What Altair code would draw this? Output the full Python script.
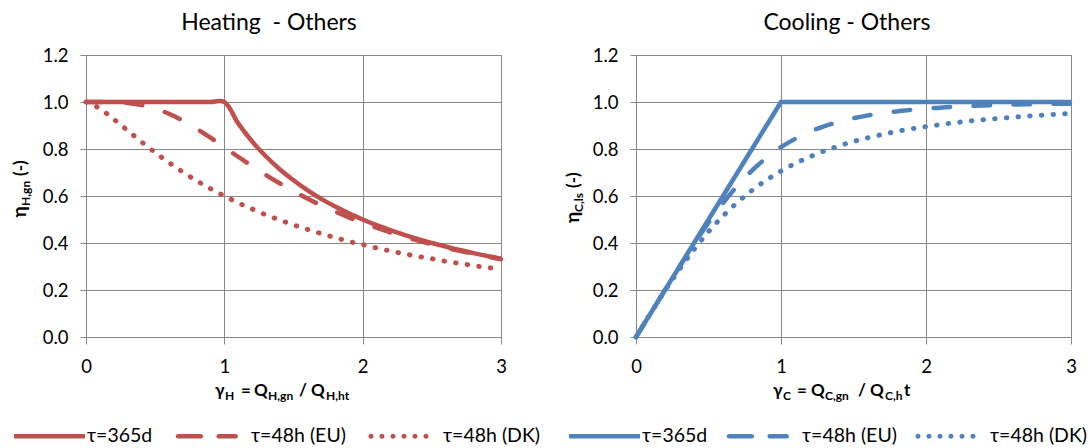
import altair as alt
import pandas as pd

# Ratio of gains to losses (x) shared by every curve
GAMMA = [0.0, 0.1, 0.2, 0.3, 0.4, 0.5, 0.6, 0.7, 0.8, 0.9, 1.0,
         1.1, 1.2, 1.3, 1.4, 1.5, 1.6, 1.7, 1.8, 1.9, 2.0,
         2.1, 2.2, 2.3, 2.4, 2.5, 2.6, 2.7, 2.8, 2.9, 3.0]

# Heating: gain utilisation factor
HEAT_365D = [1.000, 1.000, 1.000, 1.000, 1.000, 1.000, 1.000, 1.000, 1.000, 1.000, 1.000,
             0.909, 0.833, 0.769, 0.714, 0.667, 0.625, 0.588, 0.556, 0.526, 0.500,
             0.476, 0.455, 0.435, 0.417, 0.400, 0.385, 0.370, 0.357, 0.345, 0.333]
HEAT_48H_EU = [1.000, 1.000, 0.999, 0.996, 0.987, 0.972, 0.950, 0.921, 0.886, 0.848, 0.808,
               0.767, 0.728, 0.690, 0.654, 0.621, 0.589, 0.560, 0.534, 0.509, 0.486,
               0.465, 0.445, 0.427, 0.410, 0.395, 0.380, 0.367, 0.354, 0.342, 0.331]
HEAT_48H_DK = [1.000, 0.972, 0.927, 0.879, 0.831, 0.785, 0.742, 0.702, 0.665, 0.631, 0.600,
               0.571, 0.545, 0.520, 0.498, 0.477, 0.458, 0.440, 0.423, 0.407, 0.393,
               0.379, 0.366, 0.354, 0.343, 0.333, 0.322, 0.313, 0.304, 0.296, 0.288]

# Cooling: loss utilisation factor
COOL_365D = [0.000, 0.100, 0.200, 0.300, 0.400, 0.500, 0.600, 0.700, 0.800, 0.900, 1.000,
             1.000, 1.000, 1.000, 1.000, 1.000, 1.000, 1.000, 1.000, 1.000, 1.000,
             1.000, 1.000, 1.000, 1.000, 1.000, 1.000, 1.000, 1.000, 1.000, 1.000]
COOL_48H_EU = [0.000, 0.100, 0.200, 0.299, 0.395, 0.486, 0.570, 0.644, 0.708, 0.763, 0.808,
               0.844, 0.874, 0.897, 0.916, 0.931, 0.943, 0.953, 0.960, 0.967, 0.972,
               0.976, 0.980, 0.983, 0.985, 0.987, 0.989, 0.990, 0.991, 0.993, 0.993]
COOL_48H_DK = [0.000, 0.100, 0.197, 0.288, 0.372, 0.448, 0.515, 0.573, 0.624, 0.668, 0.706,
               0.739, 0.767, 0.792, 0.813, 0.832, 0.848, 0.862, 0.875, 0.886, 0.895,
               0.904, 0.912, 0.919, 0.925, 0.930, 0.935, 0.940, 0.944, 0.948, 0.951]

SERIES = ["τ=365d", "τ=48h (EU)", "τ=48h (DK)"]
X_TICKS = [0, 1, 2, 3]
Y_TICKS = [0.0, 0.2, 0.4, 0.6, 0.8, 1.0, 1.2]

RED = "#C0504D"
BLUE = "#4F81BD"
GRID = "#878787"
FONT = "Lato"

PLOT_H = 282
LEFT_W = 415
RIGHT_W = 435
GAP = 135


# Legend glyphs as custom symbol paths (unit = half the symbol box)
def capsule(x1, x2, r):
    return (f"M{x1},{-r}L{x2},{-r}A{r},{r} 0 0 1 {x2},{r}"
            f"L{x1},{r}A{r},{r} 0 0 1 {x1},{-r}Z")


def dot(cx, r):
    return f"M{cx - r},0A{r},{r} 0 1 0 {cx + r},0A{r},{r} 0 1 0 {cx - r},0Z"


SYM_SOLID = "M-0.97,-0.064L1,-0.064L1,0.064L-0.97,0.064Z"
SYM_DASH = capsule(-0.97, -0.34, 0.064) + capsule(0.16, 0.63, 0.064)
SYM_DOT = "".join(dot(c, 0.07) for c in [-0.944, -0.639, -0.333, -0.028, 0.278, 0.583])

LINE_STYLES = [
    dict(strokeWidth=4.5, strokeCap="butt"),
    dict(strokeWidth=4.5, strokeCap="round", strokeDash=[16.5, 23.5]),
    dict(strokeWidth=5, strokeCap="round", strokeDash=[0.5, 11.2]),
]


def text_piece(s, x, y, size, weight="normal", angle=0, align="left"):
    return alt.Chart(pd.DataFrame({"t": [s]})).mark_text(
        align=align, baseline="alphabetic", font=FONT, fontSize=size,
        fontWeight=weight, angle=angle, color="#000"
    ).encode(x=alt.value(x), y=alt.value(y), text="t:N")


def panel(values, color, width, title, title_x, xparts, yparts, legend_x,
          interps, col_pad, anchor=False):
    df = pd.DataFrame({
        "gamma": GAMMA * 3,
        "eta": values[0] + values[1] + values[2],
        "series": [s for s in SERIES for _ in GAMMA],
    })
    x = alt.X("gamma:Q",
              scale=alt.Scale(domain=[0, 3], nice=False, zero=False),
              axis=alt.Axis(values=X_TICKS, format="d", title=None, grid=True,
                            gridColor=GRID, gridWidth=1, domainColor=GRID,
                            tickColor=GRID, tickSize=7, labelFont=FONT,
                            labelFontSize=18.5, labelColor="#000", labelPadding=13,
                            labelFlush=False, labelOverlap=False, labelBound=False))
    y = alt.Y("eta:Q",
              scale=alt.Scale(domain=[0, 1.2], nice=False, zero=False),
              axis=alt.Axis(values=Y_TICKS, format=".1f", title=None, grid=True,
                            gridColor=GRID, gridWidth=1, domainColor=GRID,
                            tickColor=GRID, tickSize=6, labelFont=FONT,
                            labelFontSize=18.5, labelColor="#000", labelPadding=12,
                            labelFlush=False, labelOverlap=False))
    base = alt.Chart(df)
    layers = []
    for s, st, ip in zip(SERIES, LINE_STYLES, interps):
        layers.append(
            base.transform_filter(alt.datum.series == s)
            .mark_line(color=color, interpolate=ip, **st)
            .encode(x=x, y=y)
        )
    # legend only (no data rows reach this layer)
    layers.append(
        base.transform_filter("false")
        .mark_point(filled=True, color=color, opacity=1, size=5184)
        .encode(
            x=alt.value(0), y=alt.value(0),
            shape=alt.Shape(
                "series:N",
                scale=alt.Scale(domain=SERIES, range=[SYM_SOLID, SYM_DASH, SYM_DOT]),
                legend=alt.Legend(title=None, orient="none", legendX=legend_x,
                                  legendY=345, direction="horizontal",
                                  symbolSize=5184, symbolStrokeWidth=0,
                                  symbolFillColor=color, symbolStrokeColor=color,
                                  symbolOpacity=1, labelOffset=2, labelFont=FONT,
                                  labelFontSize=19.5, labelColor="#000",
                                  columnPadding=col_pad, padding=0, labelLimit=0),
            ),
        )
    )
    layers.append(text_piece(title, title_x, -25.5, 23, align="center"))
    for s, px, py, size in xparts:
        layers.append(text_piece(s, px, py, size, weight="bold"))
    for s, px, py, size in yparts:
        layers.append(text_piece(s, px, py, size, weight="bold", angle=270))
    if anchor:
        layers.append(
            alt.Chart(pd.DataFrame({"a": [0]})).mark_rule(opacity=0, strokeWidth=0)
            .encode(x=alt.value(-85), x2=alt.value(-85),
                    y=alt.value(-54.5), y2=alt.value(-54.5))
        )
    return alt.layer(*layers).properties(width=width, height=PLOT_H)


heat = panel(
    [HEAT_365D, HEAT_48H_EU, HEAT_48H_DK], RED, LEFT_W, "Heating \u00a0- Others", 183,
    [("γ", 129, 340.5, 17), ("H", 139, 345, 12), ("=", 155, 340.5, 17),
     ("Q", 168, 340.5, 17), ("H,gn", 182, 345, 12), ("/", 213, 340.5, 17),
     ("Q", 225, 340.5, 17), ("H,ht", 240, 345, 12)],
    [("η", -60, 162.5, 19), ("H,gn", -56, 151, 12), ("(-)", -60, 121, 17)],
    legend_x=-73, interps=["catmull-rom", "monotone", "monotone"], col_pad=22,
    anchor=True,
)

cool = panel(
    [COOL_365D, COOL_48H_EU, COOL_48H_DK], BLUE, RIGHT_W, "Cooling - Others", 211,
    [("γ", 137, 341, 17), ("C", 147, 345, 12), ("=", 161, 341, 17),
     ("Q", 175, 341, 17), ("C,gn", 189, 345, 12), ("/", 222, 341, 17),
     ("Q", 234, 341, 17), ("C,h", 249, 345, 12), ("t", 268, 341, 17)],
    [("η", -57, 168, 19), ("C,ls", -53, 157, 12), ("(-)", -57, 133, 17)],
    legend_x=-68, interps=["linear", "monotone", "monotone"], col_pad=18,
)

chart = (
    alt.hconcat(heat, cool, spacing=GAP, bounds="flush")
    .resolve_scale(shape="independent")
    .properties(padding={"left": 0, "top": 0, "right": 0, "bottom": 0},
                background="white")
    .configure_view(stroke=None)
    .configure(font=FONT)
)

chart.save("out.html", embed_options={"renderer": "svg", "actions": False})
